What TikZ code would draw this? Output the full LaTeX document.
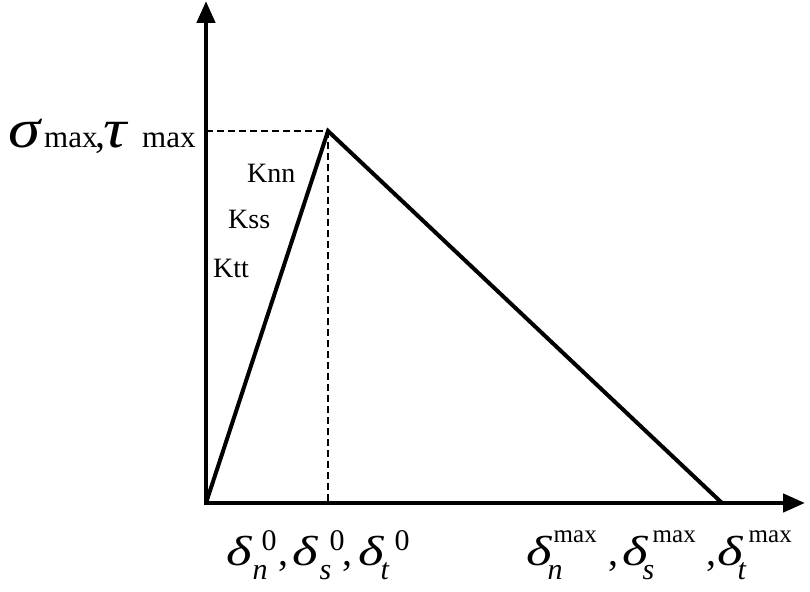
\documentclass[tikz,border=0pt]{standalone}
\usepackage{fontspec}
\setmainfont{Liberation Serif}
\usepackage{graphicx}
\usetikzlibrary{arrows.meta}
\newcommand\gd{\scalebox{1.3}[1]{\fontsize{42}{42}\selectfont\itshape δ}}
\newcommand\supz{\fontsize{30}{30}\selectfont 0}
\newcommand\supm{\fontsize{25}{25}\selectfont max}
% #1 sup offset, #2 sup, #3 sup raise, #4 sub offset, #5 sub, #6 total width
\newcommand\dlab[6]{\rlap{\gd}\rlap{\hspace{#1}\raisebox{#3}{#2}}\rlap{\hspace{#4}\raisebox{-14pt}{\fontsize{30}{30}\selectfont\itshape #5}}\hspace{#6}}
\begin{document}
\begin{tikzpicture}[x=1pt,y=-1pt,
  axis/.style={line width=4.5pt,line join=miter,{Triangle[length=22pt,width=18pt]}-{Triangle[length=22pt,width=18pt]}},
  curve/.style={line width=4pt,line join=miter},
  guide/.style={line width=2.5pt,dash pattern=on 7pt off 4pt},
  lbl/.style={inner sep=0pt,anchor=base west},
  kfont/.style={font=\fontsize{28}{28}\selectfont}]
\useasboundingbox (0,0) rectangle (810,591);
\coordinate (O) at (206,503);
\coordinate (P) at (328,131);
\coordinate (E) at (722,503);
\coordinate (Ytop) at (206,1);
\coordinate (Xend) at (805,503);
\coordinate (Yp) at (206,131);
\coordinate (Xp) at (328,503);
\draw[guide] (Yp) -- (P);
\draw[guide] (P) -- (Xp);
\draw[curve] (O) -- (P) -- (E);
\draw[axis] (Xend) -- (O) -- (Ytop);
% top label
\node[lbl] (sig) at (8,147) {\scalebox{1.3}[1.1]{\fontsize{50}{50}\selectfont\itshape σ}};
\node[lbl] (sigm) at (44,147) {\fontsize{31}{31}\selectfont max};
\node[lbl] (sigc) at (95,147) {\fontsize{40}{40}\selectfont ,};
\node[lbl] (tau) at (103,147) {\scalebox{1.3}[1.1]{\fontsize{50}{50}\selectfont\itshape τ}};
\node[lbl] (taum) at (142,147) {\fontsize{31}{31}\selectfont max};
% stiffness labels
\node[lbl,kfont] (knn) at (247,182) {Knn};
\node[lbl,kfont] (kss) at (228,228) {Kss};
\node[lbl,kfont] (ktt) at (213,277) {Ktt};
% bottom labels
\node[lbl] (dn0) at (226,565) {\dlab{35pt}{\supz}{15pt}{26pt}{n}{46pt}};
\node[lbl] (c1) at (278,565) {\fontsize{40}{40}\selectfont ,};
\node[lbl] (ds0) at (292,565) {\dlab{37pt}{\supz}{15pt}{27pt}{s}{47pt}};
\node[lbl] (c2) at (342,565) {\fontsize{40}{40}\selectfont ,};
\node[lbl] (dt0) at (358,565) {\dlab{36pt}{\supz}{15pt}{22pt}{t}{47pt}};
\node[lbl] (dnm) at (526,565) {\dlab{27pt}{\supm}{23pt}{21pt}{n}{72pt}};
\node[lbl] (c3) at (608,565) {\fontsize{40}{40}\selectfont ,};
\node[lbl] (dsm) at (622,565) {\dlab{30pt}{\supm}{23pt}{20pt}{s}{75pt}};
\node[lbl] (c4) at (706,565) {\fontsize{40}{40}\selectfont ,};
\node[lbl] (dtm) at (717,565) {\dlab{31pt}{\supm}{23pt}{20pt}{t}{76pt}};
\end{tikzpicture}
\end{document}
